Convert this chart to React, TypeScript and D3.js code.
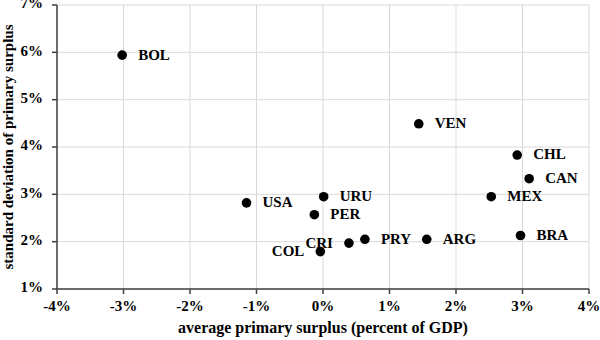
import React from "react";
import * as d3 from "d3";

const countries = ["BOL", "VEN", "CHL", "CAN", "USA", "URU", "MEX", "PER", "CRI", "PRY", "ARG", "BRA", "COL"];
const avgSurplus = [-3.02, 1.44, 2.92, 3.10, -1.15, 0.01, 2.53, -0.13, 0.39, 0.63, 1.56, 2.97, -0.04];
const stdSurplus = [5.94, 4.49, 3.83, 3.33, 2.82, 2.95, 2.95, 2.57, 1.97, 2.05, 2.05, 2.13, 1.79];
const labelLeft = ["CRI", "COL"];
const xTicks = [-4, -3, -2, -1, 0, 1, 2, 3, 4];
const yTicks = [1, 2, 3, 4, 5, 6, 7];

const W = 600, H = 340;
const FONT = "'Liberation Serif', 'Times New Roman', serif";

export default function App() {
  const x = d3.scaleLinear().domain([-4, 4]).range([57, 589]);
  const y = d3.scaleLinear().domain([1, 7]).range([289, 5]);
  const axisColor = "#404040";
  return (
    <svg width={W} height={H} style={{ position: "absolute", left: 0, top: 0, background: "#fff" }} fontFamily={FONT} fontWeight="bold">
      {xTicks.map((t) => (
        <line key={"gx" + t} x1={x(t)} x2={x(t)} y1={y(7)} y2={y(1)} stroke="#d9d9d9" strokeWidth={1} />
      ))}
      {yTicks.map((t) => (
        <line key={"gy" + t} x1={x(-4)} x2={x(4)} y1={y(t)} y2={y(t)} stroke="#d9d9d9" strokeWidth={1} />
      ))}
      <line x1={x(-4)} x2={x(-4)} y1={y(7)} y2={y(1)} stroke={axisColor} strokeWidth={1.5} />
      <line x1={x(-4)} x2={x(4)} y1={y(1)} y2={y(1)} stroke={axisColor} strokeWidth={1.5} />
      {xTicks.map((t) => (
        <g key={"tx" + t}>
          <line x1={x(t)} x2={x(t)} y1={y(1)} y2={y(1) + 5} stroke={axisColor} strokeWidth={1.5} />
          <text x={x(t)} y={y(1) + 19} fontSize={15} textAnchor="middle" dominantBaseline="middle" fill="#000">
            {t + "%"}
          </text>
        </g>
      ))}
      {yTicks.map((t) => (
        <g key={"ty" + t}>
          <line x1={x(-4) - 5} x2={x(-4)} y1={y(t)} y2={y(t)} stroke={axisColor} strokeWidth={1.5} />
          <text x={x(-4) - 14} y={y(t)} fontSize={15} textAnchor="end" dominantBaseline="middle" fill="#000">
            {t + "%"}
          </text>
        </g>
      ))}
      {countries.map((c, i) => {
        const left = labelLeft.includes(c);
        const px = x(avgSurplus[i]);
        const py = y(stdSurplus[i]);
        return (
          <g key={c}>
            <circle cx={px} cy={py} r={4.8} fill="#000" />
            <text
              x={left ? px - 16 : px + 16}
              y={py + 1}
              fontSize={15}
              textAnchor={left ? "end" : "start"}
              dominantBaseline="middle"
              fill="#000"
            >
              {c}
            </text>
          </g>
        );
      })}
      <text x={(x(-4) + x(4)) / 2} y={333} fontSize={16} textAnchor="middle" fill="#000">
        average primary surplus (percent of GDP)
      </text>
      <text
        transform={`translate(10, ${(y(1) + y(7)) / 2}) rotate(-90)`}
        fontSize={15}
        textAnchor="middle"
        dominantBaseline="middle"
        fill="#000"
      >
        standard deviation of primary surplus
      </text>
    </svg>
  );
}
